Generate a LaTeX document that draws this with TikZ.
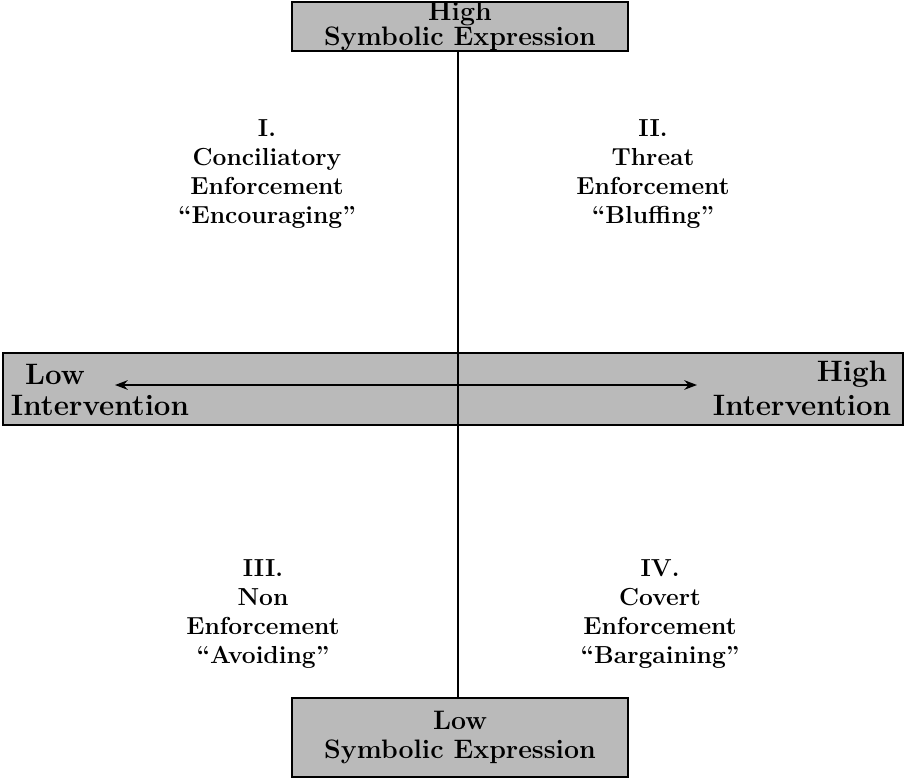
\documentclass[tikz,border=0pt]{standalone}
\usepackage{tikz}
\usetikzlibrary{positioning, arrows.meta}

\begin{document}
\begin{tikzpicture}[x=0.025cm, y=-0.025cm,
    box/.style={draw, line width=1pt, fill=black!27, align=center, inner sep=0pt,
      font=\fontsize{19}{17}\selectfont\bfseries},
    quad/.style={align=center, font=\fontsize{17.5}{20.5}\selectfont\bfseries},
    lbl/.style={font=\fontsize{21}{21}\selectfont\bfseries, inner sep=0pt}]
    \useasboundingbox (0,0) rectangle (905,777);

    % axis boxes
    \node[box, minimum width=8.4cm, minimum height=1.175cm] (top) at (460,26.5) {High\\Symbolic Expression};
    \node[box, minimum width=8.4cm, minimum height=1.975cm] (bot) at (460,737.5) {Low\\[3pt]Symbolic Expression};
    \node[box, minimum width=22.5cm, minimum height=1.8cm] (mid) at (453,389) {};

    % labels inside the middle box
    \node[lbl] (lowl) at (55,374) {Low};
    \node[lbl] (lowi) at (100,405) {Intervention};
    \node[lbl] (highl) at (852,374) {High};
    \node[lbl] (highi) at (802,405) {Intervention};

    \coordinate (al) at (115,385);
    \coordinate (ar) at (697,385);
    \draw[{Stealth[length=9pt]}-{Stealth[length=9pt]}, line width=1.6pt] (al) -- (ar);

    \draw[line width=1pt] ([xshift=-0.05cm]top.south) -- ([xshift=-0.05cm]bot.north);

    % quadrants
    \node[quad] (q1) at (267,174) {I.\\Conciliatory\\Enforcement\\``Encouraging''};
    \node[quad] (q2) at (653,174) {II.\\Threat\\Enforcement\\``Bluffing''};
    \node[quad] (q3) at (263,614) {III.\\Non\\Enforcement\\``Avoiding''};
    \node[quad] (q4) at (660,614) {IV.\\Covert\\Enforcement\\``Bargaining''};
\end{tikzpicture}
\end{document}
